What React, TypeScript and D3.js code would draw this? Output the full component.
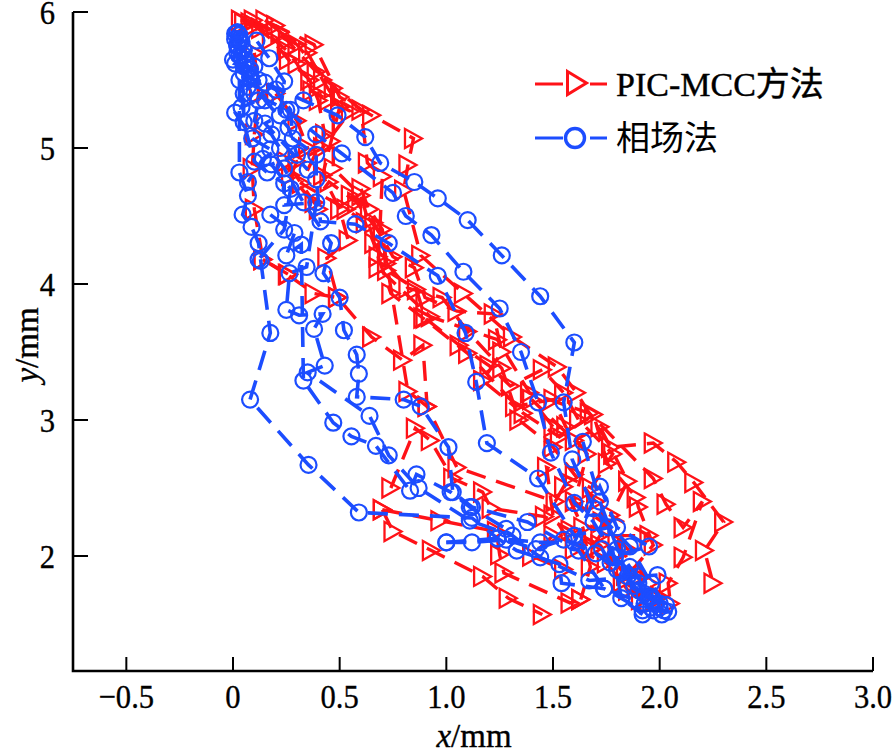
import React from "react";
import * as d3 from "d3";

type P = [number, number];

const xTickValues = [-0.5, 0, 0.5, 1, 1.5, 2, 2.5, 3];
const xTickLabels = ["\u22120.5", "0", "0.5", "1.0", "1.5", "2.0", "2.5", "3.0"];
const yTickValues = [2, 3, 4, 5, 6];
const seriesNames = ["PIC-MCC方法", "相场法"];

const red1: P[] = [[0.035,5.94],[0.2,5.9],[0.38,5.76],[0.5,5.375],[0.65,5.24],[0.846,5.07],[0.82,4.875],[0.8,4.69],[0.88,4.21],[1.08,3.93],[1.31,3.61],[1.52,3.39],[1.61,3.2],[1.77,2.8],[1.97,2.83],[2.08,2.69],[2.16,2.54],[2.3,2.25],[2.21,2.04],[2.25,1.8]];
const red2: P[] = [[0.095,5.94],[0.255,5.79],[0.39,5.56],[0.6,5.28],[0.63,4.89],[0.7,4.79],[0.68,4.12],[0.925,3.76],[1.24,3.59],[1.39,3.2],[1.67,3.05],[1.97,2.57],[2.03,2.38],[2.11,2.21],[2.2,2.4],[2.11,1.99],[2.04,1.8],[2.05,1.65]];
const red3: P[] = [[0.15,5.94],[0.3,5.76],[0.47,5.44],[0.47,4.85],[0.6,4.65],[0.68,4.2],[0.74,3.93],[0.89,3.75],[1.1,3.49],[1.36,3.05],[1.53,2.875],[1.69,3.04],[1.755,2.68],[1.89,2.43],[1.9,2.36],[1.97,2.08],[1.825,1.81]];
const red4: P[] = [[0.14,4.18],[0.255,4.07],[0.38,3.93],[0.49,3.9],[0.65,3.61],[0.795,3.44],[0.89,3.55],[0.91,3.1],[1.05,2.65],[1.51,2.4],[1.55,2.51],[1.64,2.21],[1.675,1.92],[1.63,1.68]];
const red5: P[] = [[0.74,2.5],[0.855,2.94],[0.925,2.85],[1.03,2.57],[1.17,2.47],[1.21,2.35],[1.46,2.29],[1.58,2.19],[1.72,2.08],[1.84,1.86],[1.91,1.68]];
const red6: P[] = [[0.7,2.34],[0.75,2.18],[0.93,2.04],[1.17,1.85],[1.29,1.69],[1.45,1.57]];
const red7: P[] = [[0.7,2.34],[0.97,2.26],[1.235,2.18],[1.25,2.01],[1.27,1.875],[1.58,1.655],[1.63,1.68]];
const red8: P[] = [[0.08,5.92],[0.22,5.85],[0.35,5.7],[0.42,5.5],[0.5,5.3],[0.46,5.05],[0.42,4.8],[0.5,4.55],[0.54,4.32],[0.44,4.19],[0.49,3.9]];
const red9: P[] = [[0.1,5.9],[0.18,5.8],[0.26,5.65],[0.36,5.5],[0.4,5.35],[0.43,5.1],[0.32,4.74],[0.53,4.55],[0.62,4.45],[0.66,4.3],[0.72,4.15],[0.82,3.97],[0.98,3.9],[1.1,3.65],[1.26,3.38],[1.34,3.0],[1.5,2.8],[1.6,2.6],[1.7,2.4],[1.8,2.1],[1.9,1.85],[2.0,1.7]];
const red10: P[] = [[0.1,5.7],[0.12,5.4],[0.1,5.1],[0.09,4.85],[0.1,4.55],[0.14,4.18],[0.26,4.07]];
const red11: P[] = [[0.6,4.7],[0.66,4.45],[0.75,4.2],[0.85,4.12],[0.9,3.9],[1.05,3.8],[1.22,3.78],[1.26,3.5],[1.17,3.29],[1.32,3.1],[1.5,3.15],[1.56,2.95],[1.66,2.75],[1.6,2.4],[1.73,2.25],[1.85,2.05],[1.95,1.8]];
const red12: P[] = [[0.55,4.65],[0.64,4.55],[0.7,4.4],[0.72,4.1],[0.86,3.96],[0.9,3.75],[1.06,3.55],[1.2,3.4],[1.3,3.25],[1.45,3.37],[1.55,3.2],[1.62,3.0],[1.78,2.75],[1.68,2.5],[1.47,2.65],[1.5,2.3],[1.6,2.05],[1.75,1.95],[1.85,1.75],[1.95,1.65]];
const red13: P[] = [[0.2,5.4],[0.3,5.2],[0.35,5.0],[0.25,4.9],[0.38,4.6],[0.45,4.75],[0.58,4.6],[0.7,4.35],[0.82,3.21],[0.91,3.1]];
const red14: P[] = [[0.05,5.92],[0.13,5.88],[0.25,5.72],[0.3,5.62],[0.37,5.42],[0.45,5.35],[0.55,5.27],[0.42,5.0],[0.3,4.9],[0.27,4.8],[0.4,4.55]];
const red15: P[] = [[1.5,2.95],[1.4,3.15],[1.6,2.85],[1.72,2.95],[1.85,2.55],[1.77,2.3],[1.95,2.15],[1.72,2.15],[1.68,2.05],[1.5,2.15],[1.4,2.0],[1.55,1.9]];

const blue1: P[] = [[0.02,5.85],[0.06,5.62],[0.15,5.48],[0.33,5.35],[0.49,5.24],[0.62,5.08],[0.69,4.89],[0.85,4.75],[0.96,4.63],[1.1,4.47],[1.26,4.21],[1.44,3.91],[1.6,3.57],[1.55,3.13],[1.59,2.71],[1.69,2.35],[1.86,2.07],[1.96,1.8],[2.04,1.59]];
const blue2: P[] = [[0.03,5.8],[0.05,5.55],[0.1,5.4],[0.25,5.28],[0.39,5.1],[0.51,4.96],[0.75,4.67],[0.81,4.5],[0.93,4.36],[1.08,4.09],[1.25,3.82],[1.35,3.5],[1.43,3.13],[1.49,2.76],[1.6,2.39],[1.69,2.25],[1.79,1.99],[1.93,1.65],[2.01,1.57]];
const blue3: P[] = [[0.03,5.78],[0.0,5.65],[0.08,5.52],[0.2,5.43],[0.27,5.28],[0.28,5.07],[0.39,4.95],[0.39,4.77],[0.41,4.46],[0.574,4.44],[0.73,4.3],[0.96,4.06],[1.09,3.64],[1.14,3.28],[1.19,2.83],[1.43,2.57],[1.6,2.15],[1.76,2.21],[1.82,1.69],[1.92,1.57]];
const blue4: P[] = [[0.02,5.7],[0.05,5.4],[0.01,5.26],[0.09,5.07],[0.175,4.99],[0.24,4.85],[0.33,4.6],[0.46,4.3],[0.424,4.08],[0.5,3.9],[0.52,3.66],[0.58,3.48],[0.59,3.34],[0.58,3.17],[0.8,3.15],[0.88,3.1],[1.01,2.8],[1.03,2.47],[1.12,2.36],[1.38,2.25],[1.62,2.04],[1.74,1.76],[1.93,1.65]];
const blue5: P[] = [[0.05,5.6],[0.05,5.19],[0.1,4.9],[0.16,4.82],[0.24,4.74],[0.24,4.58],[0.39,4.6],[0.345,4.125],[0.265,4.08],[0.25,3.81],[0.31,3.77],[0.42,3.78],[0.38,3.67],[0.43,3.4],[0.35,3.35],[0.64,3.03],[0.73,2.74],[0.87,2.5],[1.11,2.26],[1.31,2.15],[1.44,1.99],[1.67,1.82],[1.99,1.86]];
const blue6: P[] = [[0.03,5.5],[0.03,4.82],[0.07,4.65],[0.045,4.51],[0.087,4.42],[0.12,4.3],[0.13,4.17],[0.175,3.64],[0.08,3.15],[0.354,2.67],[0.59,2.32],[1.12,2.28],[1.24,2.13],[1.33,2.04],[1.53,1.94],[1.54,1.8],[1.74,1.76],[1.92,1.6]];
const blue7: P[] = [[0.175,4.51],[0.288,4.375],[0.25,4.21],[0.32,4.29],[0.33,3.29],[0.47,2.98],[0.555,2.88],[0.67,2.81],[0.83,2.48],[0.86,2.6],[1.02,2.47],[1.11,2.36],[1.28,2.2]];
const blue8: P[] = [[1.0,2.1],[1.24,2.13],[1.44,2.1],[1.6,2.1],[1.72,2.51],[1.8,2.21],[1.95,2.07],[1.79,2.0],[1.9,1.8],[1.96,1.62]];
const blue9: P[] = [[0.02,5.85],[0.03,5.83],[0.03,5.8],[0.04,5.78],[0.02,5.75],[0.05,5.72],[0.03,5.68],[0.06,5.65],[0.11,5.79],[0.17,5.66],[0.24,5.49],[0.22,5.24],[0.15,5.18],[0.35,4.84]];
const blue10: P[] = [[1.64,2.84],[1.72,2.4],[1.85,1.85],[1.9,1.75],[1.95,1.7],[1.98,1.65],[2.0,1.62],[2.02,1.6],[1.97,1.6]];
const blue11: P[] = [[0.01,5.84],[0.01,5.8],[0.02,5.76],[0.05,5.68],[0.01,5.62],[0.08,5.58],[0.12,5.5],[0.07,5.45],[0.04,5.3],[0.12,5.35],[0.1,5.2],[0.18,5.1],[0.22,5.0],[0.14,4.92],[0.07,4.75]];
const blue12: P[] = [[0.1,5.6],[0.15,5.35],[0.26,5.15],[0.3,4.95],[0.18,4.88],[0.27,4.7],[0.24,4.4],[0.12,4.18]];
const blue13: P[] = [[1.73,2.05],[1.77,1.95],[1.82,1.88],[1.88,1.78],[1.93,1.72],[1.97,1.68],[2.0,1.65],[2.03,1.64],[1.96,1.7],[1.9,1.85],[1.86,1.92],[1.8,2.05]];
const blue14: P[] = [[1.0,2.1],[1.12,2.1],[1.28,2.12],[1.42,2.05],[1.55,2.12],[1.7,2.02],[1.8,1.9]];

const redSeries = [red1, red2, red3, red4, red5, red6, red7, red8, red9, red10, red11, red12, red13, red14, red15];
const blueSeries = [blue1, blue2, blue3, blue4, blue5, blue6, blue7, blue8, blue9, blue10, blue11, blue12, blue13, blue14];

const RED = "#ff1218";
const BLUE = "#1c4dff";
const SERIF = "'Liberation Serif', 'Noto Sans CJK SC', serif";

const x = d3.scaleLinear().domain([-0.75, 3]).range([73, 873]);
const y = d3.scaleLinear().domain([1.1544, 6]).range([671, 12]);
const line = d3.line<P>().x((d) => x(d[0])).y((d) => y(d[1]));

const triangle = (cx: number, cy: number, w: number, h: number) =>
  `M${cx - w / 2},${cy - h / 2}L${cx + w / 2},${cy}L${cx - w / 2},${cy + h / 2}Z`;

export default function App() {
  return (
    <svg
      width={896}
      height={754}
      viewBox="0 0 896 754"
      style={{ position: "absolute", left: 0, top: 0, background: "#fff" }}
    >
      <g fill="none" stroke={RED} strokeWidth={3.4}>
        {redSeries.map((s, i) => (
          <g key={i}>
            <path d={line(s) ?? ""} strokeDasharray="20 11" />
            {s.map((d, j) => (
              <path key={j} d={triangle(x(d[0]), y(d[1]), 17, 19)} strokeWidth={2.3} />
            ))}
          </g>
        ))}
      </g>
      <g fill="none" stroke={BLUE} strokeWidth={3.6}>
        {blueSeries.map((s, i) => (
          <g key={i}>
            <path d={line(s) ?? ""} strokeDasharray="20 11" />
            {s.map((d, j) => (
              <circle key={j} cx={x(d[0])} cy={y(d[1])} r={8} strokeWidth={2.2} />
            ))}
          </g>
        ))}
      </g>

      <g stroke="#000" fill="none" strokeWidth={2}>
        <path d={`M${x.range()[0]},${y.range()[1]}V${y.range()[0]}H${x.range()[1]}`} strokeWidth={2.6} />
        {xTickValues.map((v) => (
          <line key={v} x1={x(v)} x2={x(v)} y1={y.range()[0]} y2={y.range()[0] - 14} />
        ))}
        {yTickValues.map((v) => (
          <line key={v} x1={x.range()[0]} x2={x.range()[0] + 15} y1={y(v)} y2={y(v)} />
        ))}
      </g>

      <g fontFamily={SERIF} fontSize={34} fill="#000" stroke="#000" strokeWidth={0.35}>
        {xTickValues.map((v, i) => (
          <text key={v} transform={`translate(${x(v)},708) scale(0.9,1)`} textAnchor="middle">
            {xTickLabels[i]}
          </text>
        ))}
        {yTickValues.map((v) => (
          <text key={v} transform={`translate(55,${y(v) + 12}) scale(0.9,1)`} textAnchor="end">
            {v}
          </text>
        ))}
        <text x={474} y={747} fontSize={33} textAnchor="middle">
          <tspan fontStyle="italic">x</tspan>/mm
        </text>
        <text transform="translate(38,345) rotate(-90)" fontSize={33} textAnchor="middle">
          <tspan fontStyle="italic">y</tspan>/mm
        </text>
      </g>

      <g fill="none">
        <line x1={535} x2={607} y1={84} y2={84} stroke={RED} strokeWidth={3} strokeDasharray="28 27 17" />
        <path d={triangle(577, 83, 19, 23)} stroke={RED} strokeWidth={3} />
        <line x1={535} x2={607} y1={138} y2={138} stroke={BLUE} strokeWidth={3} strokeDasharray="28 27 17" />
        <circle cx={575} cy={138} r={9.5} stroke={BLUE} strokeWidth={3.4} />
      </g>
      <g fontFamily={SERIF} fontSize={34} fill="#000">
        <text x={616} y={96} stroke="#000" strokeWidth={0.4}>
          PIC-MCC<tspan fontFamily="'Noto Sans CJK SC'">{seriesNames[0].slice(7)}</tspan>
        </text>
        <text x={616} y={150} fontFamily="'Noto Sans CJK SC'">
          {seriesNames[1]}
        </text>
      </g>
    </svg>
  );
}
